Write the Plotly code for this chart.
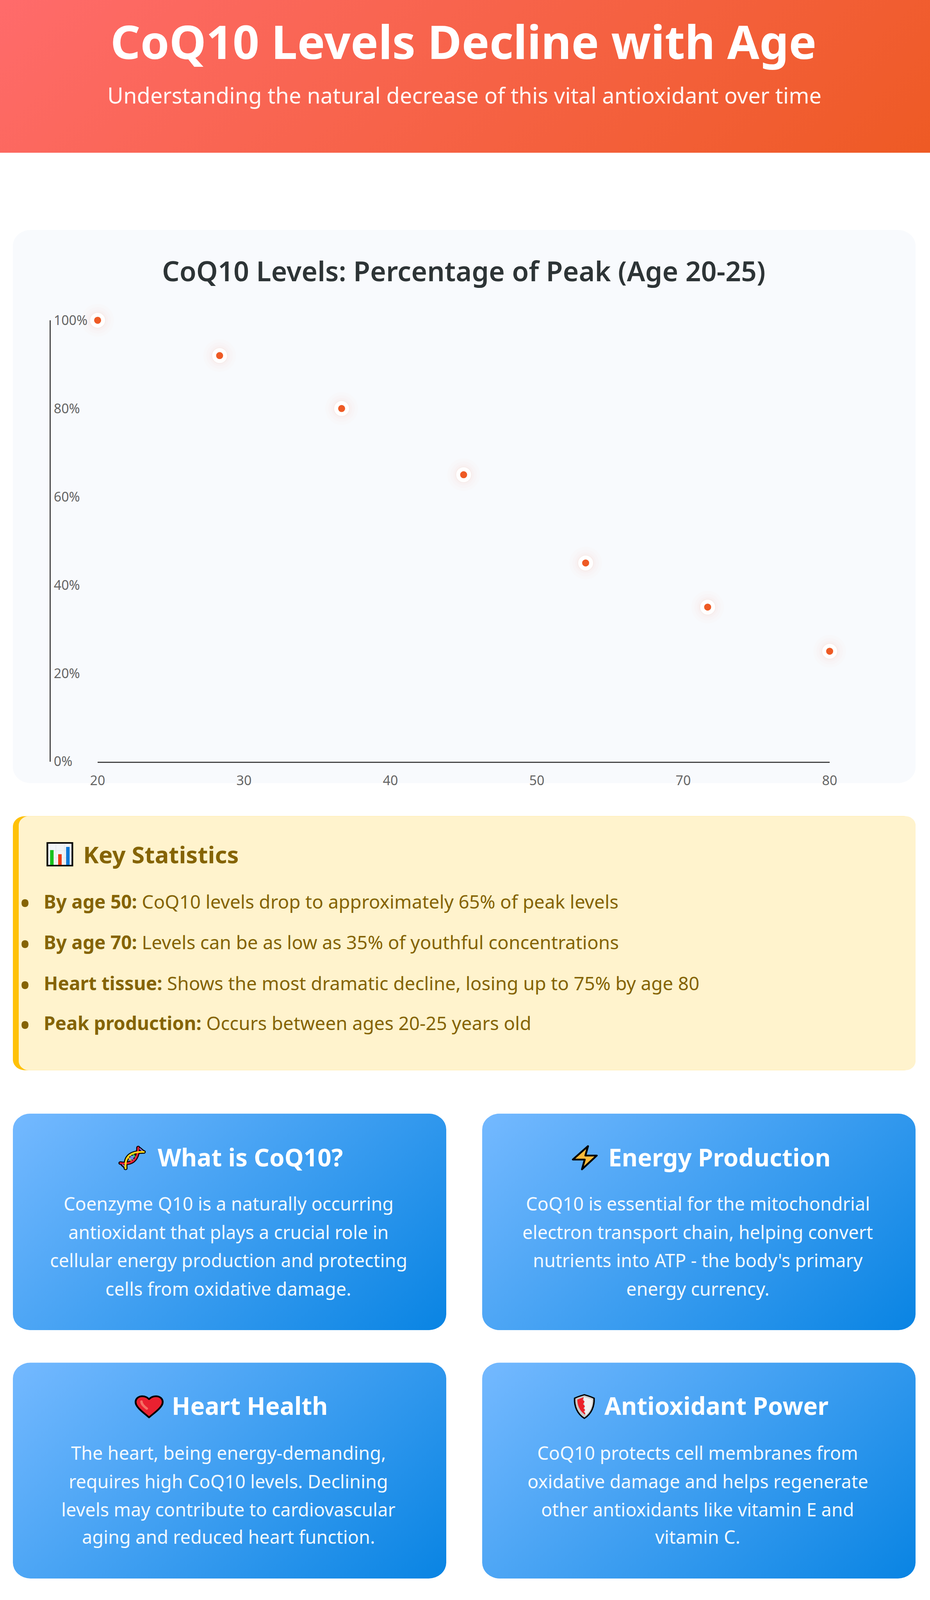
import math
import urllib.parse
import plotly.graph_objects as go

W, H = 2382, 4536

# ---- data ----
ages = [20, 30, 40, 50, 60, 70, 80]
levels = [100, 92, 80, 65, 45, 35, 25]
x_tick_positions = [20, 32, 44, 56, 68, 80]
x_tick_labels = ["20", "30", "40", "50", "70", "80"]
y_tick_values = [0, 20, 40, 60, 80, 100]
y_tick_labels = ["0%", "20%", "40%", "60%", "80%", "100%"]

main_title = "CoQ10 Levels Decline with Age"
main_subtitle = "Understanding the natural decrease of this vital antioxidant over time"
chart_title = "CoQ10 Levels: Percentage of Peak (Age 20-25)"
stats_title = "Key Statistics"
stats_lines = [
    "<b>By age 50:</b> CoQ10 levels drop to approximately 65% of peak levels",
    "<b>By age 70:</b> Levels can be as low as 35% of youthful concentrations",
    "<b>Heart tissue:</b> Shows the most dramatic decline, losing up to 75% by age 80",
    "<b>Peak production:</b> Occurs between ages 20-25 years old",
]
card_titles = ["What is CoQ10?", "Energy Production", "Heart Health", "Antioxidant Power"]
card_bodies = [
    ["Coenzyme Q10 is a naturally occurring", "antioxidant that plays a crucial role in",
     "cellular energy production and protecting", "cells from oxidative damage."],
    ["CoQ10 is essential for the mitochondrial", "electron transport chain, helping convert",
     "nutrients into ATP - the body's primary", "energy currency."],
    ["The heart, being energy-demanding,", "requires high CoQ10 levels. Declining",
     "levels may contribute to cardiovascular", "aging and reduced heart function."],
    ["CoQ10 protects cell membranes from", "oxidative damage and helps regenerate",
     "other antioxidants like vitamin E and", "vitamin C."],
]

FONT = "Noto Sans"

def fx(px):
    return px / W

def fy(py):
    return 1 - py / H

def rrect(x0, y0, x1, y1, r):
    k = 0.45 * r
    pts = [
        ("M", x0 + r, y0), ("L", x1 - r, y0),
        ("C", x1 - k, y0, x1, y0 + k, x1, y0 + r), ("L", x1, y1 - r),
        ("C", x1, y1 - k, x1 - k, y1, x1 - r, y1), ("L", x0 + r, y1),
        ("C", x0 + k, y1, x0, y1 - k, x0, y1 - r), ("L", x0, y0 + r),
        ("C", x0, y0 + k, x0 + k, y0, x0 + r, y0),
    ]
    out = []
    for p in pts:
        c = p[0]
        vals = p[1:]
        coords = " ".join(f"{fx(vals[i]):.6f},{fy(vals[i + 1]):.6f}" for i in range(0, len(vals), 2))
        out.append(f"{c} {coords}")
    return " ".join(out) + " Z"

images = []

def add_svg(x, y, w, h, view_w, view_h, inner, layer="below"):
    svg = (f'<svg xmlns="http://www.w3.org/2000/svg" width="{w}" height="{h}" '
           f'viewBox="0 0 {view_w} {view_h}" preserveAspectRatio="none">{inner}</svg>')
    images.append(dict(
        source="data:image/svg+xml;charset=utf-8," + urllib.parse.quote(svg),
        xref="paper", yref="paper", x=fx(x), y=fy(y), sizex=w / W, sizey=h / H,
        xanchor="left", yanchor="top", sizing="stretch", layer=layer,
    ))

def gradient_box(x0, y0, x1, y1, r, c0, c1):
    w, h = x1 - x0, y1 - y0
    L = (w + h) * math.sqrt(0.5)
    d = L / 2 * math.sqrt(0.5)
    cx, cy = w / 2, h / 2
    inner = (f'<defs><linearGradient id="g" gradientUnits="userSpaceOnUse" '
             f'x1="{cx - d}" y1="{cy - d}" x2="{cx + d}" y2="{cy + d}">'
             f'<stop offset="0" stop-color="{c0}"/><stop offset="1" stop-color="{c1}"/>'
             f'</linearGradient></defs>'
             f'<rect x="0" y="0" width="{w}" height="{h}" rx="{r}" ry="{r}" fill="url(#g)"/>')
    add_svg(x0, y0, w, h, w, h, inner)

# backgrounds with 135-degree gradients
gradient_box(0, 0, W, 433, 0, "#ff6b6b", "#ee5a24")
card_boxes = [(33, 3157, 1143, 3771), (1235, 3157, 2345, 3771),
              (33, 3863, 1143, 4475), (1235, 3863, 2345, 4475)]
for b in card_boxes:
    gradient_box(*b, 45, "#74b9ff", "#0984e3")

# emoji drawn as small pictures (no emoji font is available)
ICON_BARS = ('<rect x="64" y="44" width="192" height="193" fill="#f1f4f8" stroke="#000" stroke-width="13"/>'
             '<path d="M130 50V230M195 50V230M70 110H250M70 170H250" stroke="#e2e5ea" stroke-width="4" fill="none"/>'
             '<rect x="85" y="105" width="27" height="126" fill="#17c11c"/>'
             '<rect x="147" y="140" width="27" height="91" fill="#ee3a14"/>'
             '<rect x="208" y="78" width="27" height="153" fill="#0f79d8"/>')
ICON_BOLT = ('<path d="M168 58L52 172H143L122 255L235 138H148Z" fill="#fdbb3a" stroke="#000" '
             'stroke-width="15" stroke-linejoin="round"/>')
ICON_HEART = ('<path d="M155 235C120 200 52 150 52 105C52 72 78 55 103 55C125 55 145 66 155 80'
              'C167 66 187 55 208 55C235 55 260 72 260 105C260 150 190 200 155 235Z" '
              'fill="#ea2130" stroke="#000" stroke-width="14" stroke-linejoin="round"/>'
              '<path d="M97 100C97 125 120 145 138 160" fill="none" stroke="#f57065" '
              'stroke-width="19" stroke-linecap="round"/>')
RED_STRAND = "M55 187C130 200 190 175 192 55"
YEL_STRAND = "M235 92C150 90 85 115 95 232"
ICON_DNA = (f'<g fill="none" stroke-linecap="round">'
            f'<path d="M205 65L232 90M70 200L95 225" stroke="#000" stroke-width="26"/>'
            f'<path d="{RED_STRAND}" stroke="#000" stroke-width="30"/>'
            f'<path d="{YEL_STRAND}" stroke="#000" stroke-width="30"/>'
            f'<path d="M205 65L225 85M72 200L92 220" stroke="#8a6fc9" stroke-width="11"/>'
            f'<path d="M150 110L172 140" stroke="#2fb54a" stroke-width="11"/>'
            f'<path d="M133 122L155 160" stroke="#7c79d6" stroke-width="11"/>'
            f'<path d="M118 140L140 170" stroke="#f09a3e" stroke-width="11"/>'
            f'<path d="{RED_STRAND}" stroke="#e0203a" stroke-width="15"/>'
            f'<path d="{YEL_STRAND}" stroke="#fdd71c" stroke-width="15"/></g>')
ICON_SHIELD = ('<path d="M140 42C165 50 195 60 215 72C218 140 195 205 140 243C85 205 62 140 65 72'
               'C85 60 115 50 140 42Z" fill="#c9c9c9" stroke="#000" stroke-width="11" stroke-linejoin="round"/>'
               '<path d="M140 62C160 68 185 76 200 84C202 140 185 190 148 218L135 62Z" fill="#f1f1f1"/>'
               '<path d="M135 63L86 84C86 130 102 180 146 212L147 198L135 186L147 172L133 158L145 140'
               'L130 122L142 100L128 85Z" fill="#ec2029"/>')
add_svg(100, 2375, 110, 100, 330, 300, ICON_BARS, "above")
add_svg(290, 3235, 100, 95, 300, 285, ICON_DNA, "above")
add_svg(1450, 3230, 110, 100, 330, 300, ICON_BOLT, "above")
add_svg(330, 3940, 110, 100, 330, 300, ICON_HEART, "above")
add_svg(1450, 3940, 90, 95, 270, 285, ICON_SHIELD, "above")

shapes = [
    dict(type="path", path=rrect(33, 652, 2345, 2220, 45), xref="paper", yref="paper",
         fillcolor="#f8fafd", line=dict(width=0), layer="below"),
    dict(type="path", path=rrect(33, 2314, 2345, 3034, 30), xref="paper", yref="paper",
         fillcolor="#ffc107", line=dict(width=0), layer="below"),
    dict(type="path", path=rrect(48, 2314, 2345, 3034, 26), xref="paper", yref="paper",
         fillcolor="#fff3cd", line=dict(width=0), layer="below"),
]

annotations = []

def text(s, x, y, size, color, anchor="center", weight=None):
    font = dict(family=FONT, size=size, color=color)
    if weight:
        font["weight"] = weight
    annotations.append(dict(text=s, xref="paper", yref="paper", x=fx(x), y=fy(y),
                            xanchor=anchor, yanchor="middle", showarrow=False, font=font))

text(main_title, 1187, 116, 119, "#ffffff", weight=700)
text(main_subtitle, 1189, 269, 56, "rgba(255,255,255,0.95)")
text(chart_title, 1188, 767, 70, "#2d3436", weight=600)
text(stats_title, 211, 2422, 60, "#856404", anchor="left", weight=700)
for s, y in zip(stats_lines, [2555, 2671, 2787, 2900]):
    text("•", 64, y + 3, 80, "#856404")
    text(s, 110, y, 47.7, "#856404", anchor="left")

card_heads = [(641, 3280), (1843, 3280), (640, 3985), (1835, 3985)]
card_line_y = [[3412, 3493, 3573, 3653], [3412, 3493, 3573, 3653],
               [4119, 4199, 4279, 4357], [4119, 4199, 4279, 4357]]
card_cx = [585, 1787, 585, 1787]
for i in range(4):
    text(card_titles[i], card_heads[i][0], card_heads[i][1], 62, "#ffffff", weight=700)
    for line, y in zip(card_bodies[i], card_line_y[i]):
        text(line, card_cx[i], y, 46.8, "rgba(255,255,255,0.95)")

fig = go.Figure()

# soft glow under the points; the widest ring stays on the main y axis, so that the axis is drawn
fig.add_trace(go.Scatter(x=ages, y=levels, mode="markers", cliponaxis=False,
                         hoverinfo="skip", showlegend=False,
                         marker=dict(size=84, color="rgba(238,90,36,0.012)", line=dict(width=0))))
# the inner rings sit on a copy of the y axis a few pixels lower
for size, alpha in [(68, 0.016), (54, 0.02), (44, 0.03)]:
    fig.add_trace(go.Scatter(x=ages, y=levels, yaxis="y3", mode="markers", cliponaxis=False,
                             hoverinfo="skip", showlegend=False,
                             marker=dict(size=size, color=f"rgba(238,90,36,{alpha})", line=dict(width=0))))
# the points sit on a further copy of the y axis, so that they lie above the glow
fig.add_trace(go.Scatter(x=ages, y=levels, yaxis="y4", mode="markers", cliponaxis=False, showlegend=False,
                         marker=dict(size=28, color="#ee5a24", line=dict(width=10, color="#ffffff"))))

y_top, y_bot = 908, 2159
dom_y = [fy(y_bot), fy(y_top)]
shift = 6 / H
fig.update_layout(
    width=W, height=H, autosize=False,
    margin=dict(l=0, r=0, t=0, b=0),
    paper_bgcolor="#ffffff", plot_bgcolor="rgba(0,0,0,0)",
    showlegend=False,
    font=dict(family=FONT),
    images=images, shapes=shapes, annotations=annotations,
    xaxis=dict(domain=[fx(250), fx(2125)], range=[20, 80], tickmode="array", automargin=False,
               tickvals=x_tick_positions, ticktext=x_tick_labels, showgrid=False, zeroline=False,
               showline=True, linecolor="#444444", linewidth=3, anchor="y",
               ticks="outside", ticklen=17, tickcolor="rgba(0,0,0,0)",
               tickfont=dict(family=FONT, size=34, color="#666666")),
    yaxis=dict(domain=dom_y, range=[0, 100], anchor="free", position=fx(127.5), tickmode="array",
               automargin=False,
               tickvals=y_tick_values, ticktext=y_tick_labels, showgrid=False, zeroline=False,
               showline=True, linecolor="#444444", linewidth=3,
               ticks="inside", ticklen=12, tickcolor="rgba(0,0,0,0)",
               ticklabelposition="inside", ticklabeloverflow="allow",
               tickfont=dict(family=FONT, size=34, color="#666666")),
    yaxis3=dict(domain=[dom_y[0] - shift, dom_y[1] - shift], range=[0, 100], overlaying="y",
                anchor="x", visible=False, automargin=False),
    yaxis4=dict(domain=dom_y, range=[0, 100], overlaying="y",
                anchor="x", visible=False, automargin=False),
)

fig.write_html("out.html", config=dict(displayModeBar=False),
               post_script="""
document.body.style.margin='0';document.body.style.background='#fff';
var gd=document.getElementById('{plot_id}');
if(window.innerHeight<%d){Plotly.relayout(gd,{height:window.innerHeight});}
""" % H)
